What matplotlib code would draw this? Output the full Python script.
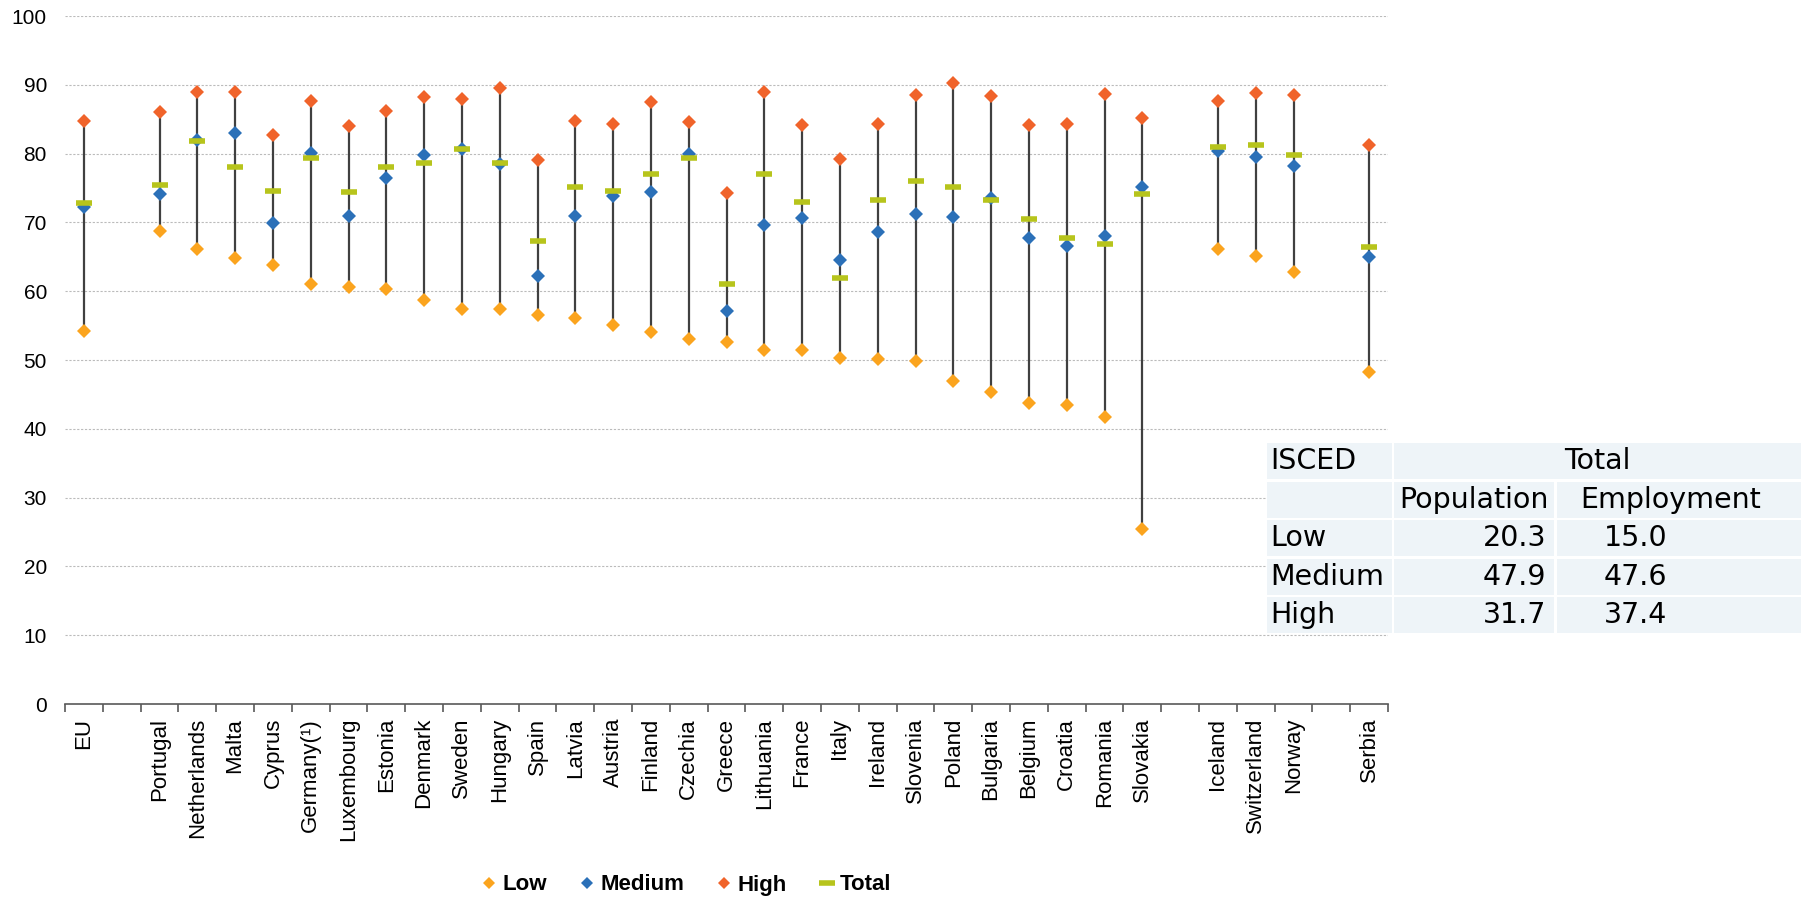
import matplotlib.pyplot as plt
import numpy as np
from matplotlib.lines import Line2D
from matplotlib.patches import Rectangle

nan = np.nan

# categories, blank slots keep the gaps between groups
categories = ['EU', '', 'Portugal', 'Netherlands', 'Malta', 'Cyprus', 'Germany(¹)',
              'Luxembourg', 'Estonia', 'Denmark', 'Sweden', 'Hungary', 'Spain',
              'Latvia', 'Austria', 'Finland', 'Czechia', 'Greece', 'Lithuania',
              'France', 'Italy', 'Ireland', 'Slovenia', 'Poland', 'Bulgaria',
              'Belgium', 'Croatia', 'Romania', 'Slovakia', '', 'Iceland',
              'Switzerland', 'Norway', '', 'Serbia']

low = [54.2, nan, 68.7, 66.2, 64.8, 63.8, 61.1, 60.6, 60.3, 58.7, 57.4, 57.4, 56.6,
       56.1, 55.1, 54.0, 53.1, 52.6, 51.5, 51.5, 50.3, 50.2, 49.9, 46.9, 45.3,
       43.8, 43.4, 41.7, 25.4, nan, 66.1, 65.1, 62.8, nan, 48.2]
medium = [72.3, nan, 74.1, 82.0, 83.0, 69.9, 80.1, 70.9, 76.4, 79.8, 80.6, 78.5, 62.2,
          70.9, 73.8, 74.4, 80.0, 57.1, 69.6, 70.7, 64.5, 68.6, 71.2, 70.8, 73.5,
          67.7, 66.6, 68.0, 75.1, nan, 80.4, 79.5, 78.2, nan, 64.9]
high = [84.7, nan, 86.0, 88.9, 88.9, 82.7, 87.6, 84.0, 86.2, 88.2, 88.0, 89.6, 79.0,
        84.7, 84.3, 87.5, 84.6, 74.3, 88.9, 84.2, 79.2, 84.3, 88.5, 90.2, 88.3,
        84.2, 84.3, 88.7, 85.2, nan, 87.7, 88.8, 88.5, nan, 81.2]
total = [72.8, nan, 75.5, 81.9, 78.0, 74.5, 79.4, 74.4, 78.1, 78.7, 80.7, 78.7, 67.3,
         75.2, 74.6, 77.0, 79.4, 61.1, 77.0, 72.9, 61.9, 73.3, 76.0, 75.1, 73.3,
         70.5, 67.7, 66.8, 74.1, nan, 80.9, 81.2, 79.8, nan, 66.4]

# inset table
table_levels = ['Low', 'Medium', 'High']
table_population = ['20.3', '47.9', '31.7']
table_employment = ['15.0', '47.6', '37.4']

c_low = '#FBA41E'
c_med = '#2B70B8'
c_high = '#F0632A'
c_tot = '#B7C41C'

fig = plt.figure(figsize=(18.1, 8.99), dpi=100)
ax = fig.add_axes([65 / 1810, 1 - 704 / 899, (1388 - 65) / 1810, (704 - 16) / 899])

x = np.arange(len(categories))
lo = np.array(low)
mi = np.array(medium)
hi = np.array(high)
to = np.array(total)
allv = np.vstack([lo, mi, hi, to])
ok = ~np.isnan(lo)
ax.vlines(x[ok], np.nanmin(allv, axis=0)[ok], np.nanmax(allv, axis=0)[ok],
          color='#404040', lw=1.6, zorder=2)
ax.plot(x, lo, 'D', color=c_low, ms=7, mew=0, ls='none', zorder=3)
ax.plot(x, mi, 'D', color=c_med, ms=7, mew=0, ls='none', zorder=3)
ax.plot(x, hi, 'D', color=c_high, ms=7, mew=0, ls='none', zorder=3)
ax.plot(x, to, '_', color=c_tot, ms=12, mew=4, ls='none', zorder=4)

ax.set_xlim(-0.5, len(categories) - 0.5)
ax.set_ylim(0, 100)
ax.set_yticks(range(0, 101, 10))
ax.yaxis.grid(True, color='#BBBBBB', ls=(0, (2, 1.5)), lw=0.8)
ax.set_axisbelow(True)
for s in ['top', 'right', 'left']:
    ax.spines[s].set_visible(False)
ax.spines['bottom'].set_color('#595959')
ax.spines['bottom'].set_linewidth(1.2)
ax.tick_params(axis='y', length=0, pad=13, labelsize=15)
for t in ax.get_yticklabels():
    t.set_family('Liberation Sans')

ax.set_xticks(x)
ax.set_xticklabels(categories, rotation=90, fontsize=16, family='Liberation Sans')
ax.tick_params(axis='x', which='major', length=0, pad=10)
ax.set_xticks(np.arange(-0.5, len(categories)), minor=True)
ax.tick_params(axis='x', which='minor', length=6, color='#595959', width=1.2, direction='out')

handles = [
    Line2D([], [], marker='D', color=c_low, ls='none', ms=6, mew=0, label='Low'),
    Line2D([], [], marker='D', color=c_med, ls='none', ms=6, mew=0, label='Medium'),
    Line2D([], [], marker='D', color=c_high, ls='none', ms=6, mew=0, label='High'),
    Line2D([], [], marker='_', color=c_tot, ls='none', ms=11, mew=4, label='Total'),
]
fig.legend(handles=handles, loc='center', bbox_to_anchor=(687 / 1810, 1 - 885 / 899),
           ncol=4, frameon=False, handlelength=0.6, handletextpad=0.3, columnspacing=1.5,
           prop={'family': 'Liberation Sans', 'weight': 'bold', 'size': 16})

# table drawn in pixel coordinates on an overlay
tab = fig.add_axes([0, 0, 1, 1], facecolor='none')
tab.set_xlim(0, 1810)
tab.set_ylim(899, 0)
tab.axis('off')
cols = [(1267, 1392), (1394, 1554), (1557, 1801)]
rows = [(443, 479), (482, 518), (520, 556), (559, 595), (597, 633)]
bg = '#EEF4F8'
for r, (y0, y1) in enumerate(rows):
    if r == 0:
        cells = [cols[0], (cols[1][0], cols[2][1])]
    else:
        cells = cols
    for (x0, x1) in cells:
        tab.add_patch(Rectangle((x0, y0), x1 - x0, y1 - y0, facecolor=bg, edgecolor='none'))

tfont = dict(family='DejaVu Sans', fontsize=20.5, color='#000000', va='center')
yc = [(a + b) / 2 for a, b in rows]
tab.text(1270, yc[0], 'ISCED', ha='left', **tfont)
tab.text((cols[1][0] + cols[2][1]) / 2, yc[0], 'Total', ha='center', **tfont)
tab.text((cols[1][0] + cols[1][1]) / 2, yc[1], 'Population', ha='center', **tfont)
tab.text((cols[2][0] + cols[2][1]) / 2 - 8, yc[1], 'Employment', ha='center', **tfont)
for i, lev in enumerate(table_levels):
    tab.text(1270, yc[i + 2], lev, ha='left', **tfont)
    tab.text(1546, yc[i + 2], table_population[i], ha='right', **tfont)
    tab.text(1667, yc[i + 2], table_employment[i], ha='right', **tfont)

fig.savefig('out.png', dpi=100)
